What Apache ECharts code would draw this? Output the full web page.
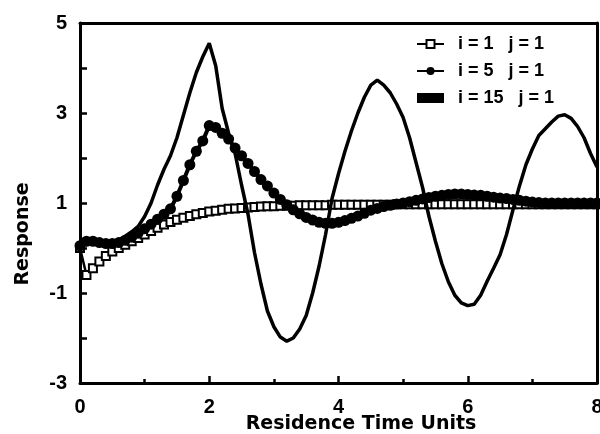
<!DOCTYPE html>
<html>
<head>
<meta charset="utf-8">
<script src="https://cdn.jsdelivr.net/npm/echarts@6/dist/echarts.min.js"></script>
<style>html,body{margin:0;padding:0;background:#fff}#c{width:600px;height:434px}</style>
</head>
<body>
<div id="c"></div>
<script>
var timeUnits = [0,0.1,0.2,0.3,0.4,0.5,0.6,0.7,0.8,0.9,1.0,1.1,1.2,1.3,1.4,1.5,1.6,1.7,1.8,1.9,2.0,2.1,2.2,2.3,2.4,2.5,2.6,2.7,2.8,2.9,3.0,3.1,3.2,3.3,3.4,3.5,3.6,3.7,3.8,3.9,4.0,4.1,4.2,4.3,4.4,4.5,4.6,4.7,4.8,4.9,5.0,5.1,5.2,5.3,5.4,5.5,5.6,5.7,5.8,5.9,6.0,6.1,6.2,6.3,6.4,6.5,6.6,6.7,6.8,6.9,7.0,7.1,7.2,7.3,7.4,7.5,7.6,7.7,7.8,7.9,8.0];

var seriesNames = ['i = 1   j = 1', 'i = 5   j = 1', 'i = 15   j = 1'];

var resp_i1 = [0.0,-0.6,-0.45,-0.3,-0.18,-0.08,0.0,0.07,0.15,0.22,0.3,0.38,0.45,0.52,0.58,0.63,0.67,0.71,0.75,0.78,0.81,0.83,0.85,0.87,0.88,0.89,0.9,0.91,0.92,0.93,0.93,0.94,0.94,0.94,0.95,0.95,0.95,0.95,0.95,0.96,0.96,0.96,0.96,0.96,0.96,0.96,0.96,0.96,0.96,0.97,0.97,0.97,0.97,0.97,0.97,0.97,0.97,0.97,0.97,0.97,0.97,0.97,0.97,0.97,0.97,0.97,0.97,0.97,0.97,0.97,0.97,0.97,0.97,0.97,0.97,0.97,0.97,0.97,0.97,0.97,0.97];

var resp_i5 = [0.05,0.15,0.15,0.12,0.1,0.1,0.12,0.17,0.24,0.33,0.43,0.53,0.64,0.75,0.87,1.15,1.5,1.85,2.15,2.38,2.72,2.68,2.55,2.42,2.22,2.05,1.88,1.7,1.52,1.38,1.22,1.08,0.96,0.85,0.76,0.68,0.62,0.57,0.55,0.55,0.57,0.61,0.66,0.71,0.77,0.84,0.88,0.92,0.95,0.98,1.0,1.03,1.06,1.09,1.12,1.15,1.17,1.19,1.2,1.2,1.19,1.18,1.17,1.15,1.13,1.11,1.1,1.08,1.06,1.04,1.02,1.01,1.0,1.0,1.0,1.0,1.0,1.0,1.0,1.0,1.0];

var resp_i15 = [0.0,0.1,0.12,0.1,0.1,0.12,0.18,0.26,0.36,0.48,0.7,1.0,1.4,1.75,2.05,2.45,2.95,3.45,3.9,4.25,4.55,4.05,3.1,2.55,2.1,1.4,0.75,-0.1,-0.8,-1.4,-1.75,-1.98,-2.07,-2.0,-1.8,-1.5,-1.0,-0.4,0.3,1.1,1.65,2.15,2.6,3.0,3.35,3.62,3.73,3.62,3.45,3.2,2.9,2.45,1.9,1.35,0.7,0.15,-0.35,-0.75,-1.05,-1.22,-1.28,-1.25,-1.05,-0.74,-0.45,-0.15,0.3,0.85,1.38,1.85,2.2,2.5,2.65,2.8,2.93,2.96,2.88,2.7,2.45,2.1,1.8];

var xTickLabels = ['0','2','4','6','8'];
var yTickLabels = ['-3','-1','1','3','5'];
var xRange = [0, 8];
var yRange = [-3, 5];

function pairs(xs, ys){ return xs.map(function(x,i){ return [x, ys[i]]; }); }

var lblFont = {color:'#000', fontFamily:'Liberation Sans', fontWeight:'bold', fontSize:20};
var frameAxis = {
  axisLine:{show:true, onZero:false, lineStyle:{color:'#000', width:3}},
  axisTick:{show:false}, axisLabel:{show:false}, splitLine:{show:false}, minorTick:{show:false}
};

var chart = echarts.init(document.getElementById('c'));
chart.setOption({
  animation:false,
  grid:{left:80, right:3, top:23, bottom:51, outerBoundsMode:'none', containLabel:false},
  xAxis:[{
    type:'value', min:xRange[0], max:xRange[1], interval:2,
    axisLine:{show:true, onZero:false, lineStyle:{color:'#000', width:3}},
    axisTick:{inside:true, length:7, lineStyle:{color:'#000', width:2.5}},
    minorTick:{show:true, splitNumber:2, length:4, lineStyle:{color:'#000', width:2.5}},
    splitLine:{show:false}, minorSplitLine:{show:false},
    axisLabel:Object.assign({margin:14, formatter:function(v){ var s=String(v); return xTickLabels.indexOf(s)>=0?s:''; }}, lblFont)
  }, Object.assign({type:'value', position:'top', min:xRange[0], max:xRange[1], interval:2}, frameAxis)],
  yAxis:[{
    type:'value', min:yRange[0], max:yRange[1], interval:1,
    axisLine:{show:true, onZero:false, lineStyle:{color:'#000', width:3}},
    axisTick:{inside:true, length:7, lineStyle:{color:'#000', width:2.5}},
    splitLine:{show:false},
    axisLabel:Object.assign({margin:13, formatter:function(v){ var s=String(v); return yTickLabels.indexOf(s)>=0?s:''; }}, lblFont)
  }, Object.assign({type:'value', position:'right', min:yRange[0], max:yRange[1], interval:1}, frameAxis)],
  legend:{
    left:411, top:29, orient:'vertical', itemWidth:27, itemHeight:10, itemGap:7,
    textStyle:{color:'#000', fontFamily:'Liberation Sans', fontWeight:'bold', fontSize:18, lineHeight:20, padding:[0,0,0,9]},
    data:[seriesNames[0], seriesNames[1], {name:seriesNames[2], icon:'rect', itemStyle:{color:'#000'}}]
  },
  graphic:[
    {type:'text', x:361, y:424, style:{text:'Residence Time Units', font:'bold 19px "DejaVu Sans"', fill:'#000', textAlign:'center', textVerticalAlign:'middle'}},
    {type:'text', x:23, y:234, rotation:Math.PI/2, style:{text:'Response', font:'bold 19px "DejaVu Sans"', fill:'#000', textAlign:'center', textVerticalAlign:'middle'}}
  ],
  series:[
    {name:seriesNames[0], type:'line', xAxisIndex:0, yAxisIndex:0, data:pairs(timeUnits, resp_i1), symbol:'rect', symbolSize:8,
     lineStyle:{color:'#000', width:2.5}, itemStyle:{color:'#fff', borderColor:'#000', borderWidth:2}, z:3},
    {name:seriesNames[1], type:'line', xAxisIndex:0, yAxisIndex:0, data:pairs(timeUnits, resp_i5), symbol:'circle', symbolSize:11,
     lineStyle:{color:'#000', width:4}, itemStyle:{color:'#000', borderColor:'#000', borderWidth:0}, z:4},
    {name:seriesNames[2], type:'line', xAxisIndex:1, yAxisIndex:1, data:pairs(timeUnits, resp_i15), showSymbol:false,
     lineStyle:{color:'#000', width:3.5}, itemStyle:{color:'#000'}, z:5}
  ]
});
</script>
</body>
</html>
